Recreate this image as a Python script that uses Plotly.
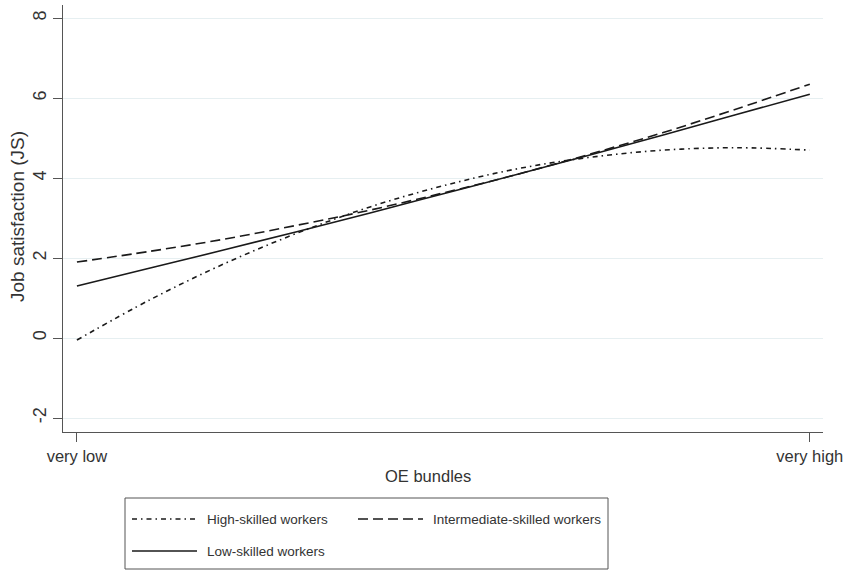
import plotly.graph_objects as go

# Data (predicted job satisfaction)
oe_levels = [0.0, 0.1, 0.2, 0.3, 0.4, 0.5, 0.6, 0.7, 0.8, 0.9, 1.0]
high_skilled = [-0.05, 0.96, 1.85, 2.62, 3.28, 3.81, 4.23, 4.52, 4.70, 4.76, 4.70]
intermediate_skilled = [1.90, 2.17, 2.47, 2.82, 3.20, 3.63, 4.09, 4.60, 5.14, 5.73, 6.35]
low_skilled = [1.30, 1.75, 2.20, 2.66, 3.13, 3.61, 4.09, 4.58, 5.08, 5.59, 6.10]

series_names = ["High-skilled workers", "Intermediate-skilled workers", "Low-skilled workers"]
series_values = [high_skilled, intermediate_skilled, low_skilled]

x_tick_vals = [0, 1]
x_tick_text = ["very low", "very high"]
y_tick_vals = [-2, 0, 2, 4, 6, 8]
y_tick_text = ["-2", "0", "2", "4", "6", "8"]

x_title = "OE bundles"
y_title = "Job satisfaction (JS)"

# styles
line_dashes = ["5px,4px,1.5px,4px", "10px,5px", "solid"]
line_color = "#1a1a1a"
text_color = "#333333"
axis_color = "#555555"
font_family = "Liberation Sans, Arial, sans-serif"

W, H = 849, 572
ML, MR, MT, MB = 63, 26, 5, 140
PW, PH = W - ML - MR, H - MT - MB


def px(x):
    return (x - ML) / PW


def py(y):
    return (H - MB - y) / PH


fig = go.Figure()
for name, vals, dash in zip(series_names, series_values, line_dashes):
    fig.add_trace(go.Scatter(
        x=oe_levels, y=vals, name=name, mode="lines",
        line=dict(color=line_color, width=1.6, dash=dash, shape="spline"),
        showlegend=False,
    ))

shapes = []
annotations = []

# manual legend (box, samples, labels)
shapes.append(dict(type="rect", xref="paper", yref="paper",
                   x0=px(125), x1=px(608), y0=py(569), y1=py(498),
                   line=dict(color=axis_color, width=1), fillcolor="white", layer="above"))
legend_slots = [(132, 519), (358, 519), (132, 551)]
for (sx, sy), name, dash in zip(legend_slots, series_names, line_dashes):
    shapes.append(dict(type="line", xref="paper", yref="paper",
                       x0=px(sx), x1=px(sx + 65), y0=py(sy), y1=py(sy),
                       line=dict(color=line_color, width=1.4, dash=dash), layer="above"))
    annotations.append(dict(text=name, xref="paper", yref="paper",
                            x=px(sx + 73), y=py(sy), xanchor="left", yanchor="middle",
                            showarrow=False, font=dict(size=13.5, color=text_color)))

# axis titles
annotations.append(dict(text=x_title, xref="paper", yref="paper",
                        x=px(428), y=py(476), xanchor="center", yanchor="middle",
                        showarrow=False, font=dict(size=16.5, color=text_color)))
annotations.append(dict(text=y_title, xref="paper", yref="paper",
                        x=px(17), y=py(217), xanchor="center", yanchor="middle",
                        textangle=-90, showarrow=False, font=dict(size=19, color=text_color)))

fig.update_layout(
    width=W, height=H,
    margin=dict(l=ML, r=MR, t=MT, b=MB),
    paper_bgcolor="white", plot_bgcolor="white",
    font=dict(family=font_family, size=14, color=text_color),
    showlegend=False,
    shapes=shapes,
    annotations=annotations,
    xaxis=dict(
        range=[-0.019, 1.018], tickvals=x_tick_vals, ticktext=x_tick_text,
        showgrid=False, zeroline=False, showline=True, linecolor=axis_color, linewidth=1.3,
        ticks="outside", ticklen=9, tickcolor=axis_color, tickwidth=1.3,
        tickfont=dict(size=16.5, color=text_color), automargin=False,
    ),
    yaxis=dict(
        range=[-2.35, 8.33], tickvals=y_tick_vals, ticktext=y_tick_text, tickangle=-90,
        showgrid=True, gridcolor="#e6eff1", gridwidth=1.2, zeroline=False,
        showline=True, linecolor=axis_color, linewidth=1.3,
        ticks="outside", ticklen=9, tickcolor=axis_color, tickwidth=1.3,
        tickfont=dict(size=18, color=text_color), automargin=False,
    ),
)

fig.write_html(
    "out.html",
    config={"displayModeBar": False},
    post_script="document.body.style.margin='0';document.body.style.overflow='hidden';",
)
